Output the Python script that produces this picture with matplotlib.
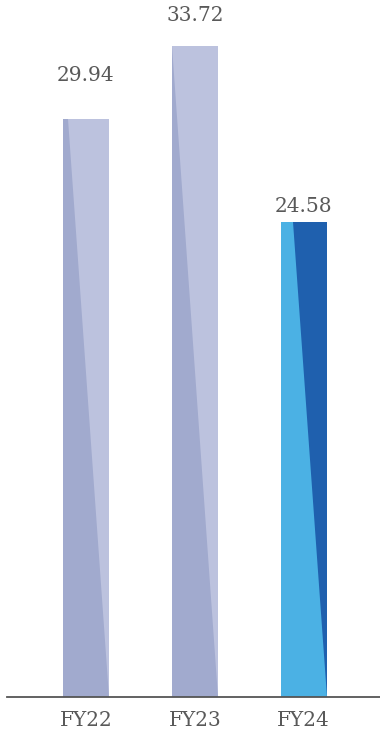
import matplotlib.pyplot as plt
from matplotlib.patches import Polygon

# values per fiscal year
years = ['FY22', 'FY23', 'FY24']
values = [29.94, 33.72, 24.58]
left_colors = ['#A1AACE', '#A1AACE', '#4BB1E4']
right_colors = ['#BCC2DE', '#BCC2DE', '#1F60AE']
label_offsets = [31, 22, 11.5]  # points above bar top

plt.rcParams['font.family'] = 'DejaVu Serif'

fig = plt.figure(figsize=(3.8, 7.35), dpi=100)
ax = fig.add_axes([0.018, 0.0517, 0.982, 0.9483])

x = list(range(len(years)))
width = 0.42
bars = ax.bar(x, values, width=width, color=left_colors, zorder=2)

# diagonal split: runs from the left edge at the tallest value down to the right edge at zero
vmax = max(values)
for bar, v, c in zip(bars, values, right_colors):
    l = bar.get_x()
    r = l + bar.get_width()
    xd = l + bar.get_width() * (1 - v / vmax)
    ax.add_patch(Polygon([(xd, v), (r, v), (r, 0)], closed=True,
                         facecolor=c, edgecolor='none', zorder=3))

for xi, v, off in zip(x, values, label_offsets):
    ax.annotate(f'{v:.2f}', (xi, v), xytext=(0, off), textcoords='offset points',
                ha='center', va='center', fontsize=14.5, color='#595959')

ax.set_xlim(-0.725, 2.70)
ax.set_ylim(0, 36.1)
ax.set_xticks(x)
ax.set_xticklabels(years, fontsize=14.5, color='#595959')
ax.tick_params(axis='x', length=0, pad=10)
ax.set_yticks([])
for s in ['top', 'right', 'left']:
    ax.spines[s].set_visible(False)
ax.spines['bottom'].set_color('#555555')
ax.spines['bottom'].set_linewidth(1.3)
ax.spines['bottom'].set_zorder(4)

plt.savefig('out.png', dpi=100)
